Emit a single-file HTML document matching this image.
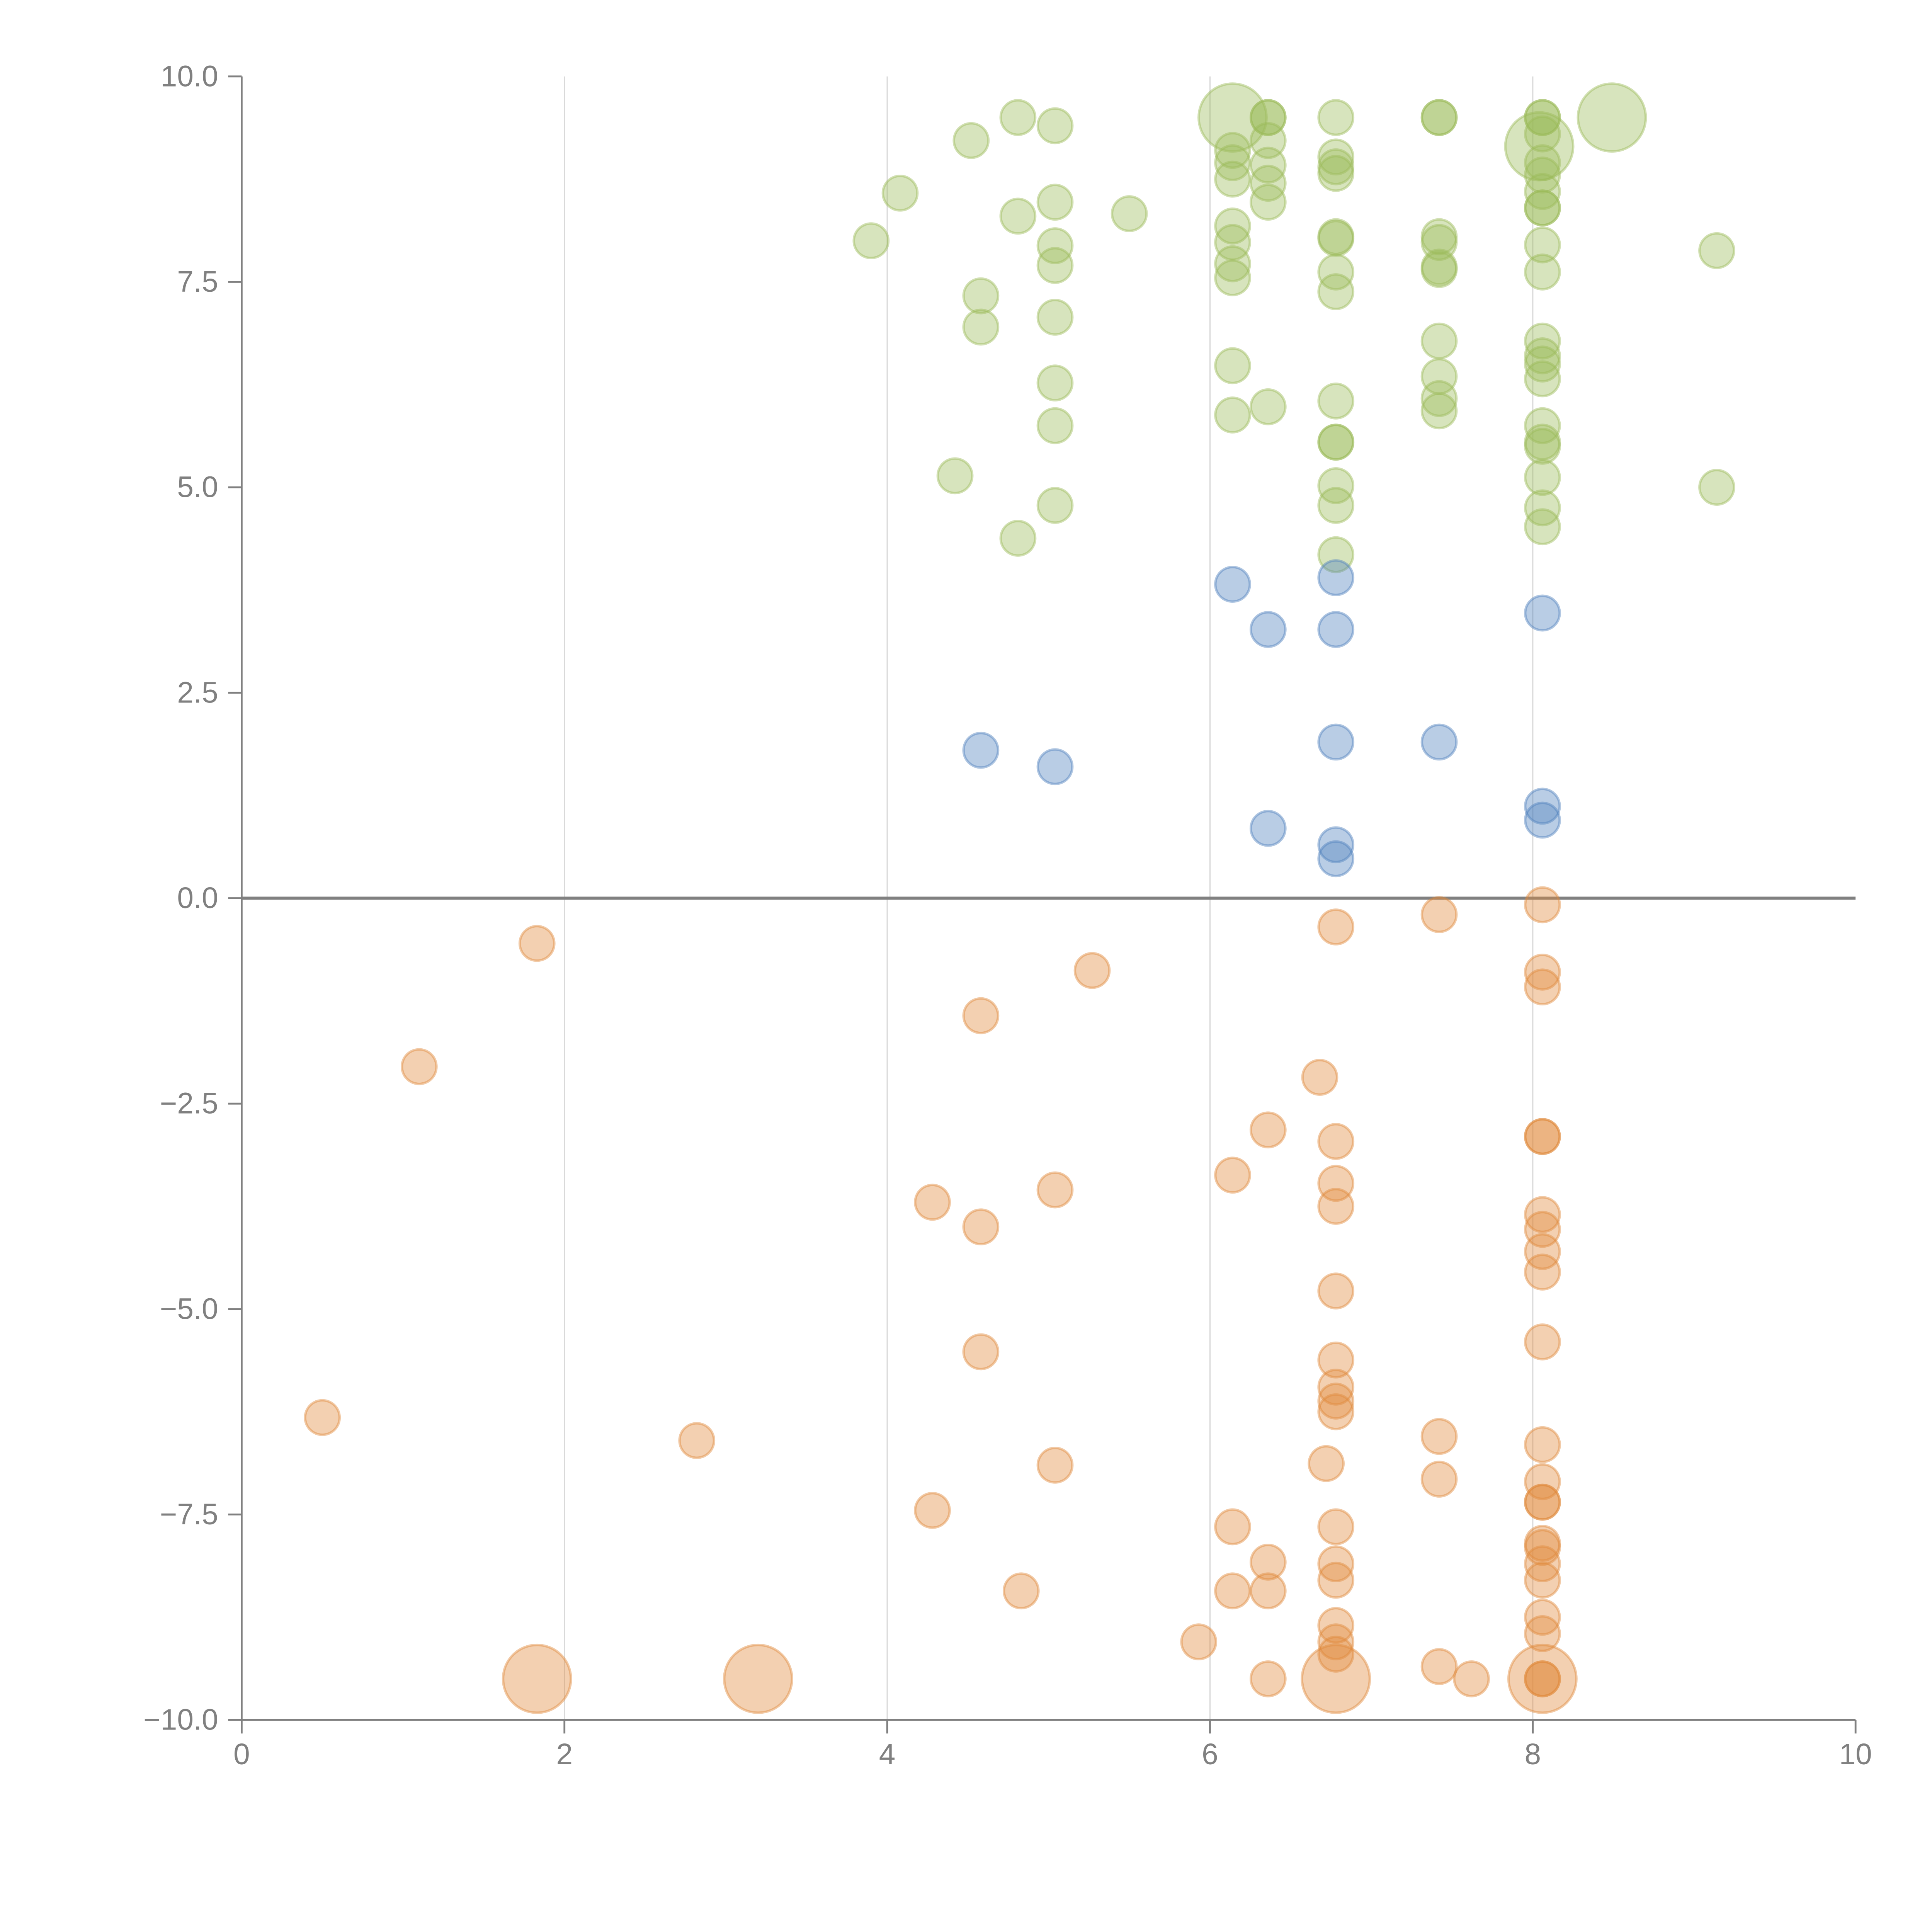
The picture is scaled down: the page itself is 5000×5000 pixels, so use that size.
<!DOCTYPE html>
<html><head><meta charset="utf-8"><style>html,body{margin:0;padding:0;background:#fff}svg{display:block}</style></head>
<body>
<svg id="chart" width="5000" height="5000" viewBox="0 0 1567 1567" xmlns="http://www.w3.org/2000/svg" font-family="Liberation Sans, sans-serif">
<g id="grid"></g>
<g id="axes"></g>
<g id="marks"></g>
</svg>
<script>
const greenX=[3.9,4.08,4.52,4.81,5.04,4.81,5.04,5.5,5.04,5.04,4.58,4.58,5.04,5.04,5.04,4.42,5.04,4.81,
6.14,6.14,6.14,6.14,6.14,6.14,6.14,6.14,6.14,6.14,
6.36,6.36,6.36,6.36,6.36,6.36,6.36,
6.78,6.78,6.78,6.78,6.78,6.78,6.78,6.78,6.78,6.78,6.78,6.78,6.78,6.78,
7.42,7.42,7.42,7.42,7.42,7.42,7.42,7.42,7.42,7.42,
8.06,8.06,8.06,8.04,8.06,8.06,8.06,8.06,8.06,8.06,8.06,8.06,8.06,8.06,8.06,8.06,8.06,8.06,8.06,8.06,8.06,
8.49,9.14,9.14];
const greenY=[8.0,8.58,9.22,9.5,9.4,8.3,8.47,8.33,7.94,7.7,7.33,6.95,7.07,6.27,5.75,5.14,4.78,4.38,
9.5,9.1,8.95,8.75,8.18,7.98,7.72,7.55,6.48,5.88,
9.5,9.5,9.22,8.92,8.7,8.47,5.98,
9.5,9.02,8.9,8.82,8.05,8.03,7.62,7.38,6.05,5.55,5.55,5.02,4.78,4.18,
9.5,9.5,8.05,7.98,7.68,7.65,6.78,6.35,6.08,5.93,
9.5,9.5,9.3,9.15,8.95,8.8,8.6,8.4,8.4,7.95,7.62,6.78,6.6,6.5,6.32,5.75,5.55,5.5,5.12,4.75,4.52,
9.5,7.88,5.0];
const greenS=[1,1,1,1,1,1,1,1,1,1,1,1,1,1,1,1,1,1,
2,1,1,1,1,1,1,1,1,1, 1,1,1,1,1,1,1, 1,1,1,1,1,1,1,1,1,1,1,1,1,1, 1,1,1,1,1,1,1,1,1,1,
1,1,1,2,1,1,1,1,1,1,1,1,1,1,1,1,1,1,1,1,1, 2,1,1];
const blueX=[4.58,5.04,6.14,6.36,6.36,6.78,6.78,6.78,6.78,6.78,7.42,8.06,8.06,8.06];
const blueY=[1.8,1.6,3.82,3.27,0.85,3.9,3.27,1.9,0.65,0.48,1.9,3.47,1.12,0.95];
const orangeX=[1.83,1.1,5.27,4.58,6.78,7.42,8.06,8.06,8.06,6.68,6.36,6.78,8.06,8.06,6.14,6.78,6.78,4.28,4.58,5.04,8.06,8.06,8.06,8.06,6.78,4.58,8.06,6.78,6.78,6.78,6.78,0.5,2.82,7.42,8.06,6.72,5.04,7.42,8.06,8.06,8.06,4.28,6.14,6.78,8.06,8.06,8.06,6.36,6.78,6.78,8.06,6.14,6.36,4.83,8.06,8.06,6.78,6.78,6.78,5.93,7.42,6.36,7.62,8.06,8.06,6.78,8.06,1.83,3.2];
const orangeY=[-0.55,-2.05,-0.88,-1.43,-0.35,-0.2,-0.08,-0.9,-1.08,-2.18,-2.82,-2.96,-2.9,-2.9,-3.37,-3.47,-3.75,-3.7,-4.0,-3.55,-3.85,-4.03,-4.3,-4.55,-4.78,-5.52,-5.4,-5.62,-5.95,-6.12,-6.25,-6.32,-6.6,-6.55,-6.65,-6.88,-6.9,-7.07,-7.1,-7.35,-7.35,-7.45,-7.65,-7.65,-7.85,-7.9,-8.1,-8.08,-8.1,-8.3,-8.3,-8.43,-8.43,-8.43,-8.75,-8.95,-8.85,-9.05,-9.2,-9.05,-9.35,-9.5,-9.5,-9.5,-9.5,-9.5,-9.5,-9.5,-9.5];
const orangeS=orangeX.map((_,i)=>i>=65?2:1);
const xTicks=[0,2,4,6,8,10];
const xTickLabels=["0","2","4","6","8","10"];
const yTicks=[10,7.5,5,2.5,0,-2.5,-5,-7.5,-10];
const yTickLabels=["10.0","7.5","5.0","2.5","0.0","\u22122.5","\u22125.0","\u22127.5","\u221210.0"];

const X0=196,X1=1505,Y0=1395,Y1=62;
const sx=v=>X0+(v-0)/(10-0)*(X1-X0);
const sy=v=>Y0-(v+10)/20*(Y0-Y1);
const NS="http://www.w3.org/2000/svg";
function mk(tag,attrs,parent){const e=document.createElementNS(NS,tag);for(const k in attrs)e.setAttribute(k,attrs[k]);parent.appendChild(e);return e;}
const grid=document.getElementById('grid'),axes=document.getElementById('axes'),marks=document.getElementById('marks');
[2,4,6,8].forEach(v=>{const l=mk('line',{x1:sx(v),x2:sx(v),y1:Y1,y2:Y0,stroke:'#d9d9d9','stroke-width':1},grid);

});
const ya=mk('line',{x1:X0,x2:X0,y1:Y1,y2:Y0,stroke:'#808080','stroke-width':1.5},axes);


const xa=mk('line',{x1:X0,x2:X1,y1:Y0,y2:Y0,stroke:'#808080','stroke-width':1.5},axes);


const zl=mk('line',{x1:X0,x2:X1,y1:sy(0),y2:sy(0),stroke:'#808080','stroke-width':2.5},axes);


yTicks.forEach((v,i)=>{mk('line',{x1:X0-11,x2:X0,y1:sy(v),y2:sy(v),stroke:'#808080','stroke-width':1.5},axes);
const t=mk('text',{x:X0-19,y:sy(v)+8,'text-anchor':'end','font-size':24,fill:'#808080'},axes);t.textContent=yTickLabels[i];

});
xTicks.forEach((v,i)=>{mk('line',{x1:sx(v),x2:sx(v),y1:Y0,y2:Y0+11,stroke:'#808080','stroke-width':1.5},axes);
const t=mk('text',{x:sx(v),y:Y0+36,'text-anchor':'middle','font-size':24,fill:'#808080'},axes);t.textContent=xTickLabels[i];

});
function series(xs,ys,ss,fill,stroke,name){xs.forEach((x,i)=>{const c=mk('circle',{cx:sx(x),cy:sy(ys[i]),r:ss[i]===2?27.5:14,fill:fill,'fill-opacity':0.4,stroke:stroke,'stroke-opacity':0.45,'stroke-width':2},marks);

});}
series(greenX,greenY,greenS,'#9bbb59','#9bbb59','green-bubble');
series(blueX,blueY,blueX.map(()=>1),'#4f81bd','#4f81bd','blue-bubble');
series(orangeX,orangeY,orangeS,'#e08a3c','#e08a3c','orange-bubble');
</script>
</body></html>
